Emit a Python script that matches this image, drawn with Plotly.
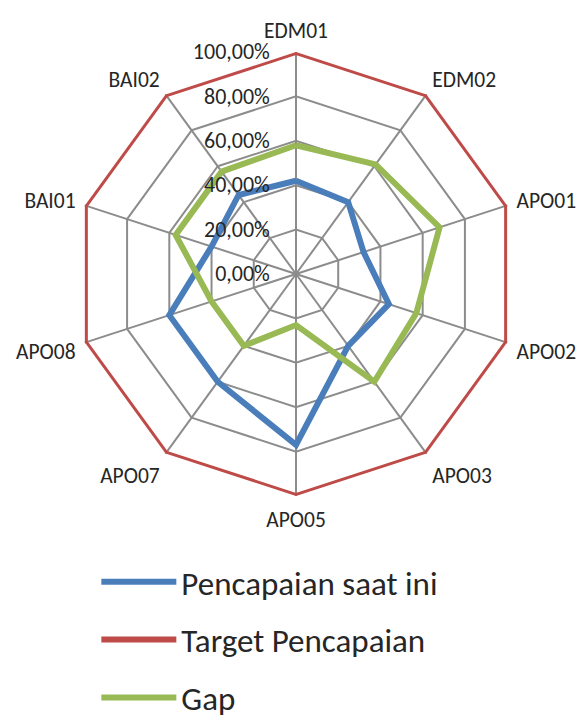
import plotly.graph_objects as go

categories = ["EDM01", "EDM02", "APO01", "APO02", "APO03", "APO05", "APO07", "APO08", "BAI01", "BAI02"]
pencapaian = [0.42, 0.40, 0.32, 0.44, 0.40, 0.77, 0.60, 0.60, 0.40, 0.44]
target = [1.00, 1.00, 1.00, 1.00, 1.00, 1.00, 1.00, 1.00, 1.00, 1.00]
gap = [0.58, 0.61, 0.68, 0.57, 0.60, 0.23, 0.40, 0.40, 0.57, 0.57]
tick_vals = [0, 0.2, 0.4, 0.6, 0.8, 1.0]

series = [
    ("Pencapaian saat ini", pencapaian, "#4a7ebb"),
    ("Target Pencapaian", target, "#be4b48"),
    ("Gap", gap, "#98b954"),
]

fig = go.Figure()
for name, vals, color in series:
    fig.add_trace(go.Scatterpolar(
        r=vals + vals[:1], theta=categories + categories[:1],
        mode="lines", name=name, legendgroup=name,
        line=dict(color=color, width=6),
    ))

font = "Carlito, Calibri, Lato, sans-serif"
fig.update_layout(
    width=585, height=720,
    margin=dict(l=0, r=0, t=0, b=0, autoexpand=False),
    paper_bgcolor="white",
    separators=",.",
    font=dict(family=font, color="#262626"),
    polar=dict(
        domain=dict(x=[0.1128, 0.8718], y=[0.3222, 0.9389]),
        bgcolor="white",
        gridshape="linear",
        angularaxis=dict(
            direction="clockwise", rotation=90,
            tickfont=dict(size=21.5), showline=False,
            gridcolor="#8c8c8c", gridwidth=1.5,
            ticks="outside", ticklen=5, tickcolor="rgba(0,0,0,0)",
        ),
        radialaxis=dict(
            range=[0, 1], tickvals=tick_vals, tickformat=".2%",
            angle=90, tickangle=90, side="counterclockwise",
            tickfont=dict(size=22), showline=False,
            gridcolor="#8c8c8c", gridwidth=1.5,
            ticks="outside", ticklen=18, tickcolor="rgba(0,0,0,0)",
        ),
    ),
    legend=dict(
        x=0.151, y=0.242, xanchor="left", yanchor="top",
        font=dict(size=33), itemwidth=75, tracegroupgap=12,
    ),
)
fig.write_html("out.html")
